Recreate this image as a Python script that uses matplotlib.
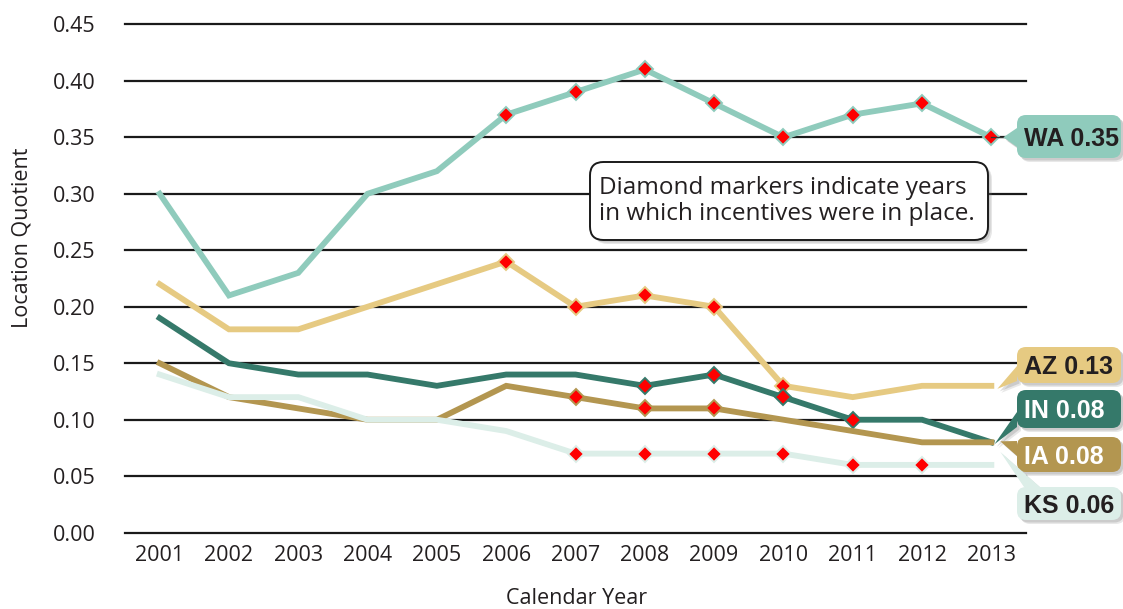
import matplotlib
matplotlib.use("Agg")
import matplotlib.pyplot as plt
from matplotlib.patches import FancyBboxPatch, Polygon

plt.rcParams["font.family"] = ["Open Sans", "DejaVu Sans"]

years = list(range(2001, 2014))
wa = [0.30, 0.21, 0.23, 0.30, 0.32, 0.37, 0.39, 0.41, 0.38, 0.35, 0.37, 0.38, 0.35]
az = [0.22, 0.18, 0.18, 0.20, 0.22, 0.24, 0.20, 0.21, 0.20, 0.13, 0.12, 0.13, 0.13]
ind = [0.19, 0.15, 0.14, 0.14, 0.13, 0.14, 0.14, 0.13, 0.14, 0.12, 0.10, 0.10, 0.08]
ia = [0.15, 0.12, 0.11, 0.10, 0.10, 0.13, 0.12, 0.11, 0.11, 0.10, 0.09, 0.08, 0.08]
ks = [0.14, 0.12, 0.12, 0.10, 0.10, 0.09, 0.07, 0.07, 0.07, 0.07, 0.06, 0.06, 0.06]

# years with incentives in place
wa_inc = [2006, 2007, 2008, 2009, 2010, 2011, 2012, 2013]
az_inc = [2006, 2007, 2008, 2009, 2010]
ind_inc = [2008, 2009, 2010, 2011]
ia_inc = [2007, 2008, 2009]
ks_inc = [2007, 2008, 2009, 2010, 2011, 2012]

yticks = [0.00, 0.05, 0.10, 0.15, 0.20, 0.25, 0.30, 0.35, 0.40, 0.45]

W, H = 1123, 609
fig = plt.figure(figsize=(W / 100, H / 100), dpi=100)
ax = fig.add_axes([125 / W, 1 - 532.7 / H, 901 / W, 508.4 / H])
ax.set_xlim(2000.5, 2013.5)
ax.set_ylim(0, 0.45)

TXT = "#231f20"
for t in yticks:
    ax.axhline(t, color="#1a1a1a", lw=1.6, zorder=1, clip_on=False)

series = [
    ("WA", wa, wa_inc, "#8fcbbc", TXT),
    ("AZ", az, az_inc, "#e6ca82", TXT),
    ("IN", ind, ind_inc, "#35796a", "white"),
    ("IA", ia, ia_inc, "#b39650", "white"),
    ("KS", ks, ks_inc, "#dceee8", TXT),
]

for i, (name, vals, inc, col, _) in enumerate(series):
    ax.plot(years, vals, color=col, lw=4.2, zorder=3 + i, solid_joinstyle="miter")
    mv = [vals[years.index(y)] for y in inc]
    ax.plot(inc, mv, ls="none", marker="D", ms=8, color="#ff0000",
            mec=col, mew=1.4, zorder=3 + i)

ax.set_xticks(years)
ax.set_yticks(yticks)
ax.set_yticklabels([f"{t:.2f}" for t in yticks])
ax.tick_params(length=0, labelsize=15.5, colors=TXT)
ax.tick_params(axis="y", pad=21)
ax.tick_params(axis="x", pad=9)
for s in ax.spines.values():
    s.set_visible(False)

fig.text(22 / W, 1 - 238 / H, "Location Quotient", rotation=90,
         ha="center", va="center", fontsize=15.5, color=TXT)
fig.text(577 / W, 1 - 599 / H, "Calendar Year", ha="center", va="center",
         fontsize=15.5, color=TXT)


def fp(x, y):
    return (x / W, 1 - y / H)


# note box
def note_box():
    x0, y0, x1, y1 = 590, 162, 988, 240
    for off, a in [(4, 0.18), (2.5, 0.25)]:
        sh = FancyBboxPatch(fp(x0 + off, y1 + off), (x1 - x0) / W, (y1 - y0) / H,
                            boxstyle="round,pad=0,rounding_size=0.012",
                            transform=fig.transFigure, fc="#777777", ec="none",
                            alpha=a, zorder=10, mutation_aspect=W / H)
        fig.add_artist(sh)
    box = FancyBboxPatch(fp(x0, y1), (x1 - x0) / W, (y1 - y0) / H,
                         boxstyle="round,pad=0,rounding_size=0.012",
                         transform=fig.transFigure, fc="white", ec="#1a1a1a",
                         lw=1.4, zorder=11, mutation_aspect=W / H)
    fig.add_artist(box)
    fig.text(599 / W, 1 - 201 / H,
             "Diamond markers indicate years\nin which incentives were in place.",
             ha="left", va="center", fontsize=17.5, color=TXT, linespacing=1.12,
             zorder=12)


note_box()

# end-of-line callouts: box top/bottom, pointer base on box edge, tip offset from point
callouts = {
    "WA": (115, 158, [(1017, 128), (1017, 147)], (12, 0)),
    "AZ": (347, 383, [(1017, 366), (1017, 381)], (6, -3)),
    "IN": (390, 428, [(1017, 412), (1017, 427)], (3, -2)),
    "IA": (437, 472, [(1017, 441), (1017, 456)], (9, 1)),
    "KS": (487, 520, [(1024, 487), (1040, 487)], (9, 13)),
}
for name, vals, inc, col, tcol in series:
    top, bot, base, (dx, dy) = callouts[name]
    px_, py_ = ax.transData.transform((years[-1], vals[-1]))
    tip = (px_ + dx, H - py_ - dy)
    x0, x1 = 1017, 1121
    tri = [base[0], base[1], tip]
    for off, a in [(4, 0.15), (2.5, 0.22)]:
        sh = FancyBboxPatch(fp(x0 + off, bot + off), (x1 - x0) / W, (bot - top) / H,
                            boxstyle="round,pad=0,rounding_size=0.008",
                            transform=fig.transFigure, fc="#666666", ec="none",
                            alpha=a, zorder=20, mutation_aspect=W / H)
        fig.add_artist(sh)
        fig.add_artist(Polygon([fp(x + off, y + off) for x, y in tri],
                               transform=fig.transFigure, fc="#666666", ec="none",
                               alpha=a, zorder=20))
    box = FancyBboxPatch(fp(x0, bot), (x1 - x0) / W, (bot - top) / H,
                         boxstyle="round,pad=0,rounding_size=0.008",
                         transform=fig.transFigure, fc=col, ec="none",
                         zorder=21, mutation_aspect=W / H)
    fig.add_artist(box)
    fig.add_artist(Polygon([fp(x, y) for x, y in tri], transform=fig.transFigure,
                           fc=col, ec="none", zorder=21))
    if name == "WA":
        fig.add_artist(plt.Line2D([px_ / W, 1020 / W], [py_ / H, py_ / H],
                                  transform=fig.transFigure, color="#333333",
                                  lw=0.9, zorder=19))
    fig.text((x0 + 7) / W, 1 - (top + bot) / 2 / H, f"{name} {vals[-1]:.2f}",
             ha="left", va="center_baseline", fontsize=18, fontweight="bold",
             family=["Liberation Sans", "DejaVu Sans"], color=tcol, zorder=22)

fig.savefig("out.png", dpi=100)
